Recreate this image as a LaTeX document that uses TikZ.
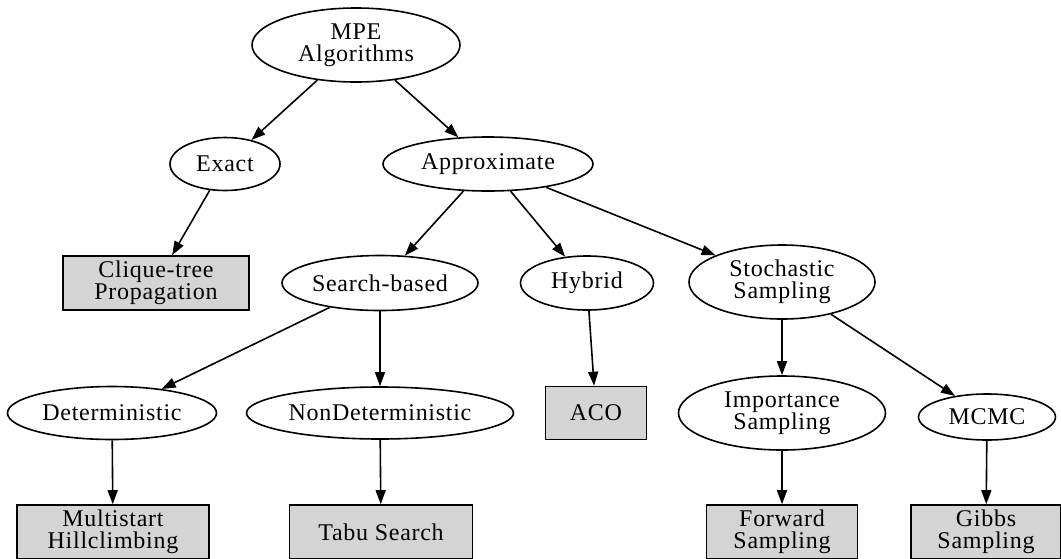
\documentclass[tikz,border=0pt]{standalone}
\usepackage{fontspec}
\setmainfont{Liberation Serif}[LetterSpace=3]
\usetikzlibrary{shapes.geometric,arrows.meta}

\tikzset{
  every node/.style={font=\fontsize{24}{22}\selectfont, align=center, inner sep=0pt, line width=1.6pt},
  oval/.style={draw, ellipse},
  leaf/.style={draw, rectangle, fill=black!17},
  edge/.style={draw, line width=1.6pt, -{Triangle[length=14pt,width=10pt]}}
}

\begin{document}
\begin{tikzpicture}[x=1pt,y=-1pt]
\useasboundingbox (0,0) rectangle (1061,558);
\fill[white] (0,0) rectangle (1061,558);

% tree nodes
\node[oval, minimum width=208, minimum height=74] (mpe) at (356,45) {MPE\\Algorithms};
\node[oval, minimum width=110, minimum height=53] (exact) at (225,164) {Exact};
\node[oval, minimum width=210, minimum height=54] (approx) at (488,164) {Approximate};

\node[leaf, minimum width=186, minimum height=54] (clique) at (156,283) {Clique-tree\\Propagation};
\node[oval, minimum width=196, minimum height=55] (search) at (380,283) {Search-based};
\node[oval, minimum width=133, minimum height=54] (hybrid) at (587,283) {Hybrid};
\node[oval, minimum width=186, minimum height=74] (stoch) at (782,282) {Stochastic\\Sampling};

\node[oval, minimum width=209, minimum height=53] (det) at (112,413) {Deterministic};
\node[oval, minimum width=267, minimum height=52] (nondet) at (380,413) {NonDeterministic};
\node[leaf, minimum width=101, minimum height=53] (aco) at (596,413) {ACO};
\node[oval, minimum width=207, minimum height=74] (imp) at (782,413) {Importance\\Sampling};
\node[oval, minimum width=137, minimum height=46] (mcmc) at (987,417) {MCMC};

\node[leaf, minimum width=192, minimum height=54] (multi) at (113,532) {Multistart\\Hillclimbing};
\node[leaf, minimum width=183, minimum height=54] (tabu) at (381,532) {Tabu Search};
\node[leaf, minimum width=151, minimum height=54] (fwd) at (782,532) {Forward\\Sampling};
\node[leaf, minimum width=150, minimum height=54] (gibbs) at (986,532) {Gibbs\\Sampling};

% connectors
\draw[edge] (mpe) -- (exact);
\draw[edge] (mpe) -- (approx);
\draw[edge] (exact) -- (clique);
\draw[edge] (approx) -- (search);
\draw[edge] (approx) -- (hybrid);
\draw[edge] (approx) -- (stoch);
\draw[edge] (search) -- (det);
\draw[edge] (search) -- (nondet);
\draw[edge] (hybrid) -- (aco);
\draw[edge] (stoch) -- (imp);
\draw[edge] (stoch) -- (mcmc);
\draw[edge] (det) -- (multi);
\draw[edge] (nondet) -- (tabu);
\draw[edge] (imp) -- (fwd);
\draw[edge] (mcmc) -- (gibbs);
\end{tikzpicture}
\end{document}
